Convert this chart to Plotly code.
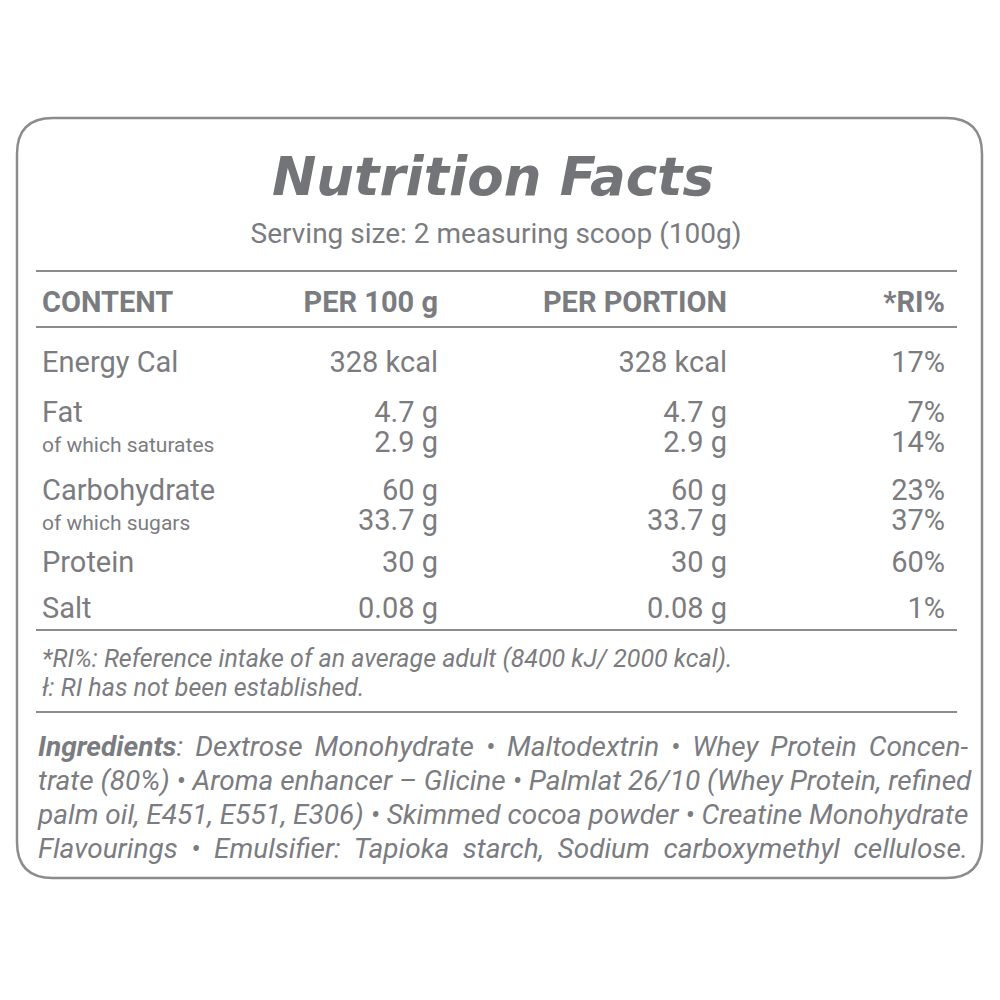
import json
import plotly.graph_objects as go

# Data
nutrients = ["Energy Cal", "Fat", "of which saturates", "Carbohydrate",
             "of which sugars", "Protein", "Salt"]
per_100g = ["328 kcal", "4.7 g", "2.9 g", "60 g", "33.7 g", "30 g", "0.08 g"]
per_portion = ["328 kcal", "4.7 g", "2.9 g", "60 g", "33.7 g", "30 g", "0.08 g"]
ri_pct = ["17%", "7%", "14%", "23%", "37%", "60%", "1%"]
is_sub = [False, False, True, False, True, False, False]
headers = ["CONTENT", "PER 100 g", "PER PORTION", "*RI%"]
footnotes = ["*RI%: Reference intake of an average adult (8400 kJ/ 2000 kcal).",
             "ł: RI has not been established."]
ingredient_lines = [
    "<b>Ingredients</b>: Dextrose Monohydrate • Maltodextrin • Whey Protein Concen-",
    "trate (80%) • Aroma enhancer – Glicine • Palmlat 26/10 (Whey Protein, refined",
    "palm oil, E451, E551, E306) • Skimmed cocoa powder • Creatine Monohydrate",
    "Flavourings • Emulsifier: Tapioka starch, Sodium carboxymethyl cellulose.",
]

# Layout (screen pixel coordinates; page body has an 8px margin)
TXT = "#7b7c7f"
LINE = "#8c8c8c"
FONT = "Roboto"
DY = 4  # text "middle" anchoring sits a little above the visual centre
row_y = [361, 411, 443, 489, 521, 561, 607]
col_x = [42, 438, 727, 945]
ING_X0, ING_X1 = 38, 968

fig = go.Figure()

# header row
fig.add_trace(go.Scatter(
    x=[col_x[0]], y=[301 + DY], mode="text", text=[headers[0]],
    textposition="middle right",
    textfont=dict(family=FONT, size=29, color=TXT, weight="bold")))
fig.add_trace(go.Scatter(
    x=col_x[1:], y=[301 + DY] * 3, mode="text", text=headers[1:],
    textposition="middle left",
    textfont=dict(family=FONT, size=29, color=TXT, weight="bold")))

# nutrient labels
fig.add_trace(go.Scatter(
    x=[col_x[0]] * len(nutrients), y=[y + DY for y in row_y], mode="text",
    text=nutrients, textposition="middle right",
    textfont=dict(family=FONT, size=[21 if s else 29 for s in is_sub], color=TXT)))

# value columns
for xc, vals in zip(col_x[1:], [per_100g, per_portion, ri_pct]):
    fig.add_trace(go.Scatter(
        x=[xc] * len(vals),
        y=[y + DY - (2 if s else 0) for y, s in zip(row_y, is_sub)],
        mode="text", text=vals, textposition="middle left",
        textfont=dict(family=FONT, size=29, color=TXT)))

# footnotes
fig.add_trace(go.Scatter(
    x=[42, 42], y=[657 + DY, 686 + DY], mode="text", text=footnotes,
    textposition="middle right",
    textfont=dict(family=FONT, size=25, color=TXT, style="italic")))

# ingredients
fig.add_trace(go.Scatter(
    x=[ING_X0] * 4, y=[y + DY for y in [745, 779, 813, 847]], mode="text",
    text=ingredient_lines, textposition="middle right",
    textfont=dict(family=FONT, size=28, color=TXT, style="italic")))

# title and serving size
fig.add_trace(go.Scatter(
    x=[493], y=[182], mode="text", text=["Nutrition Facts"],
    textposition="middle center",
    textfont=dict(family="DejaVu Sans", size=53, color="#737477",
                  weight="bold", style="italic")))
fig.add_trace(go.Scatter(
    x=[496], y=[232 + DY], mode="text",
    text=["Serving size: 2 measuring scoop (100g)"],
    textposition="middle center",
    textfont=dict(family=FONT, size=28, color=TXT)))

# rules
shapes = []
for yl in [271, 327, 630, 712]:
    shapes.append(dict(type="line", x0=36, x1=957, y0=yl, y1=yl,
                       line=dict(color=LINE, width=2)))
# rounded frame
L, T, R, B, r = 17, 118, 982, 878, 36
path = (f"M {L + r},{T} L {R - r},{T} Q {R},{T} {R},{T + r} "
        f"L {R},{B - r} Q {R},{B} {R - r},{B} L {L + r},{B} "
        f"Q {L},{B} {L},{B - r} L {L},{T + r} Q {L},{T} {L + r},{T} Z")
shapes.append(dict(type="path", path=path, line=dict(color=LINE, width=2.5)))

fig.update_layout(
    width=1000, height=1000,
    margin=dict(l=0, r=0, t=0, b=0),
    paper_bgcolor="white", plot_bgcolor="white",
    showlegend=False,
    shapes=shapes,
    xaxis=dict(range=[8, 1008], visible=False, fixedrange=True),
    yaxis=dict(range=[1008, 8], visible=False, fixedrange=True),
)

# justify the ingredient paragraph by widening word spacing
plain = [s.replace("<b>", "").replace("</b>", "") for s in ingredient_lines]
justify_js = """
var lines = %s, target = %d;
var gd = document.getElementById('{plot_id}');
gd.querySelectorAll('g.textpoint text').forEach(function (t) {
  var s = t.textContent;
  if (lines.indexOf(s) < 0) return;
  var n = (s.match(/ /g) || []).length;
  var w = t.getComputedTextLength();
  if (n > 0 && w < target) t.setAttribute('word-spacing', ((target - w) / n) + 'px');
});
""" % (json.dumps(plain), ING_X1 - ING_X0)

fig.write_html("out.html", post_script=justify_js)
